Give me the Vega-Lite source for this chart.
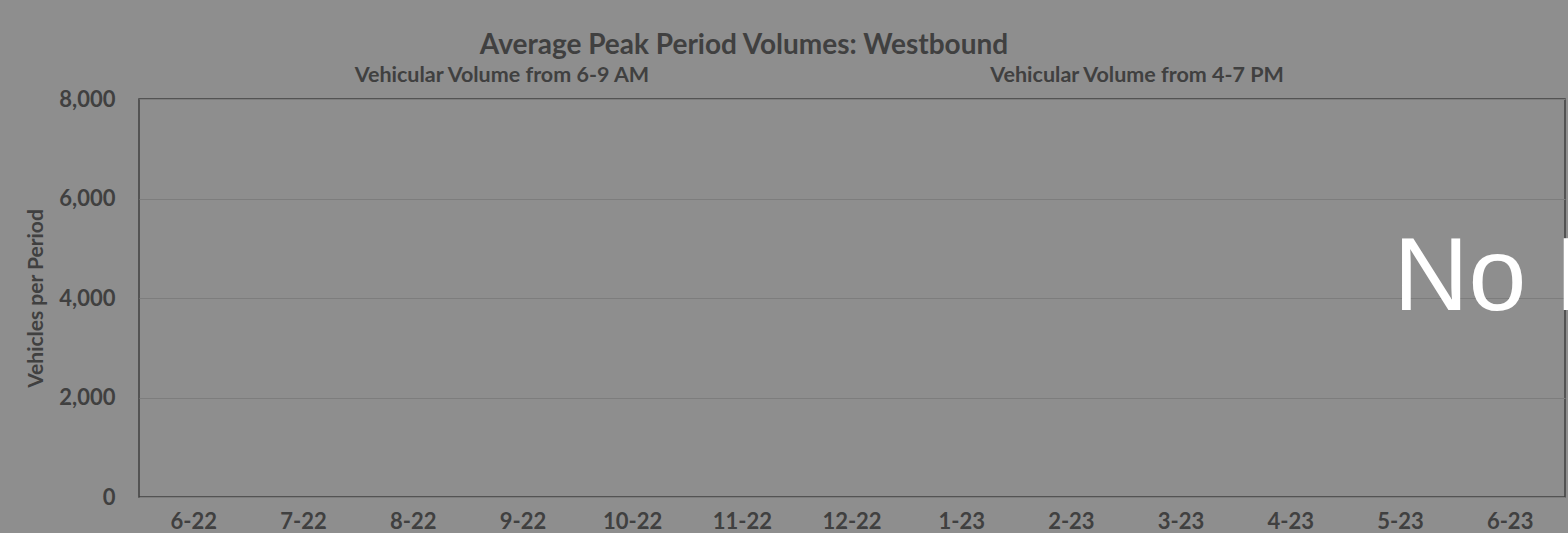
{
  "$schema": "https://vega.github.io/schema/vega-lite/v6.json",
  "width": 1426,
  "height": 398,
  "autosize": {"type": "none"},
  "padding": {"left": 139, "top": 99, "right": 3, "bottom": 36},
  "background": "#8e8e8e",
  "title": {
    "text": "Average Peak Period Volumes: Westbound",
    "anchor": "middle",
    "frame": "group",
    "dx": -108,
    "font": "Lato",
    "fontSize": 28,
    "fontWeight": "bold",
    "color": "#404040",
    "offset": 5
  },
  "config": {
    "view": {"stroke": "#404040", "strokeWidth": 1.5, "fill": "#8e8e8e"},
    "font": "Lato"
  },
  "datasets": {
    "volumes": [
      {"month": "6-22", "vehicles": null},
      {"month": "7-22", "vehicles": null},
      {"month": "8-22", "vehicles": null},
      {"month": "9-22", "vehicles": null},
      {"month": "10-22", "vehicles": null},
      {"month": "11-22", "vehicles": null},
      {"month": "12-22", "vehicles": null},
      {"month": "1-23", "vehicles": null},
      {"month": "2-23", "vehicles": null},
      {"month": "3-23", "vehicles": null},
      {"month": "4-23", "vehicles": null},
      {"month": "5-23", "vehicles": null},
      {"month": "6-23", "vehicles": null}
    ]
  },
  "encoding": {
    "x": {
      "field": "month",
      "type": "ordinal",
      "scale": {"domain": ["6-22", "7-22", "8-22", "9-22", "10-22", "11-22", "12-22", "1-23", "2-23", "3-23", "4-23", "5-23", "6-23"]},
      "axis": {
        "title": null,
        "labelAngle": 0,
        "labelFont": "Lato",
        "labelFontSize": 22,
        "labelFontWeight": "bold",
        "labelColor": "#404040",
        "labelPadding": 14,
        "ticks": false,
        "domain": false,
        "grid": false
      }
    }
  },
  "layer": [
    {
      "data": {"name": "volumes"},
      "mark": {"type": "bar", "color": "#4472c4"},
      "encoding": {
        "y": {
          "field": "vehicles",
          "type": "quantitative",
          "scale": {"domain": [0, 8000], "nice": false, "zero": true},
          "axis": {
            "title": "Vehicles per Period",
            "titleFont": "Lato",
            "titleFontSize": 21,
            "titleFontWeight": "bold",
            "titleColor": "#404040",
            "titlePadding": 12,
            "values": [0, 2000, 4000, 6000, 8000],
            "format": ",.0f",
            "labelFont": "Lato",
            "labelFontSize": 22,
            "labelFontWeight": "bold",
            "labelColor": "#404040",
            "labelPadding": 24,
            "ticks": false,
            "domain": false,
            "grid": true,
            "gridColor": "#7d7d7d",
            "gridWidth": 1
          }
        }
      }
    },
    {
      "data": {"values": [{"label": "Vehicular Volume from 6-9 AM", "month": "9-22", "level": 8000}]},
      "mark": {"type": "text", "font": "Lato", "fontSize": 21.5, "fontWeight": "bold", "color": "#404040", "align": "center", "baseline": "alphabetic", "dx": -21, "dy": -17},
      "encoding": {
        "y": {"field": "level", "type": "quantitative"},
        "text": {"field": "label"}
      }
    },
    {
      "data": {"values": [{"label": "Vehicular Volume from 4-7 PM", "month": "3-23", "level": 8000}]},
      "mark": {"type": "text", "font": "Lato", "fontSize": 21.5, "fontWeight": "bold", "color": "#404040", "align": "center", "baseline": "alphabetic", "dx": -44, "dy": -17},
      "encoding": {
        "y": {"field": "level", "type": "quantitative"},
        "text": {"field": "label"}
      }
    },
    {
      "data": {"values": [{"label": "No Data", "month": "5-23", "level": 4000}]},
      "mark": {"type": "text", "font": "Liberation Sans", "fontSize": 104, "color": "#ffffff", "align": "left", "baseline": "alphabetic", "dx": -7, "dy": 12},
      "encoding": {
        "y": {"field": "level", "type": "quantitative"},
        "text": {"field": "label"}
      }
    }
  ]
}
